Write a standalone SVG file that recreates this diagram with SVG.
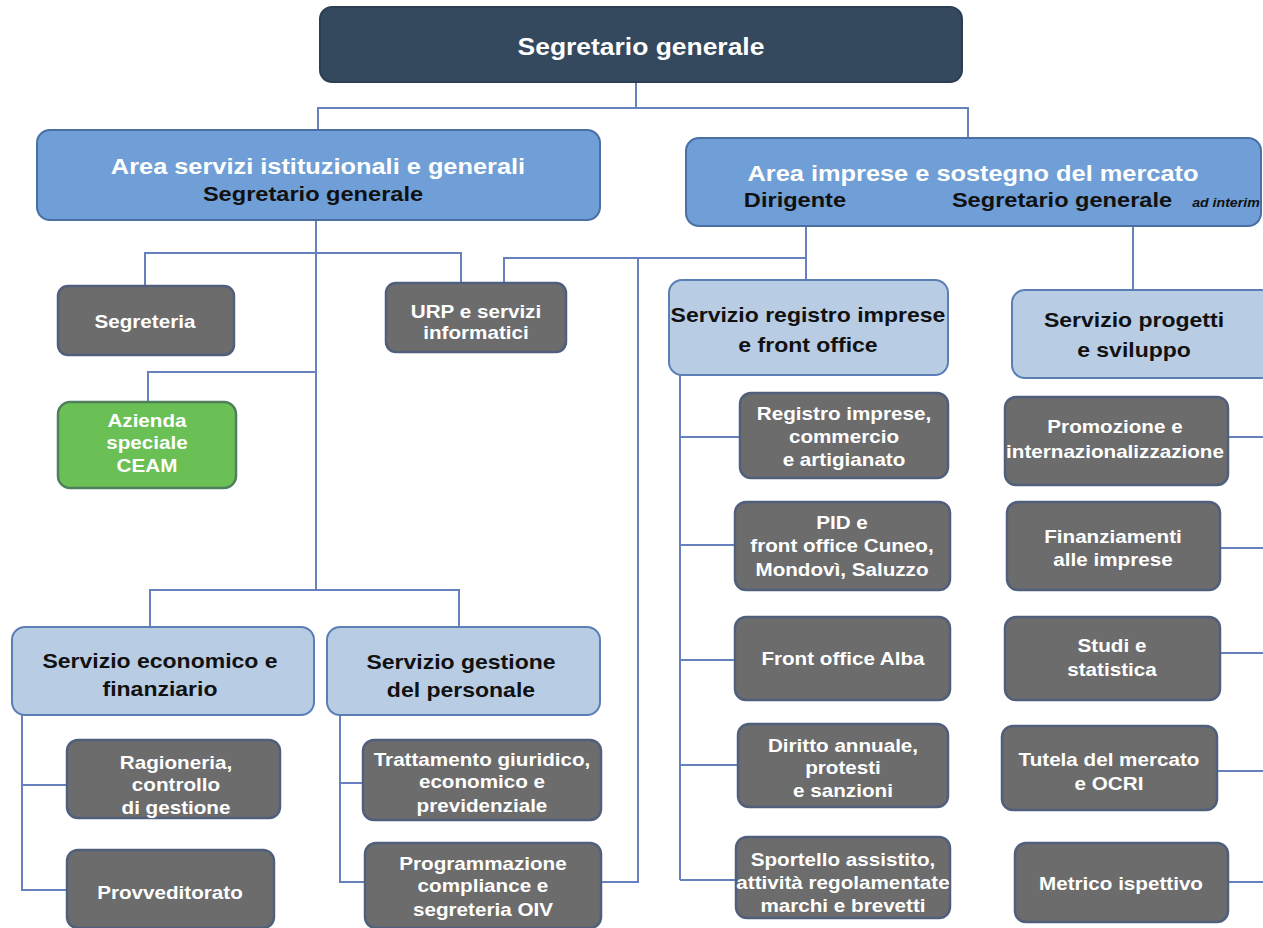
<svg xmlns="http://www.w3.org/2000/svg" width="1263" height="928" viewBox="0 0 1263 928">
<style>
.top{fill:#34495e;stroke:#2c3e52;stroke-width:2}
.area{fill:#6f9fd6;stroke:#4a6fa5;stroke-width:2}
.serv{fill:#b8cce4;stroke:#5b7fb5;stroke-width:2}
.unit{fill:#6c6c6c;stroke:#4f5f7c;stroke-width:2.5}
.green{fill:#6abf55;stroke:#4f7f5c;stroke-width:2.5}
.c{fill:none;stroke:#6681bd;stroke-width:2}
text{font-family:"Liberation Sans",Arial,sans-serif;font-weight:bold;text-anchor:middle;transform-box:fill-box;transform-origin:center;transform:scaleX(1.18)}
.tw{fill:#ffffff;font-size:23px;transform:scaleX(1.15)}
.aw{fill:#ffffff;font-size:21.5px}
.ab{fill:#111111;font-size:20px}
.sb{fill:#111111;font-size:19.5px}
.uw{fill:#ffffff;font-size:17.5px}
.it{fill:#111111;font-size:12px;font-style:italic}
</style>
<g id="connectors">
<path class="c" d="M636 82V108M318 130V108H968V138"/>
<path class="c" d="M316 220V590M145 285V253H461V283M148 402V372H316M150 627V590H459V627"/>
<path class="c" d="M806 226V280M504 283V258H806M638 258V882H601M1133 226V290"/>
<path class="c" d="M680 375V880M680 437H740M680 545H735M680 660H735M680 765H738M680 880H736"/>
<path class="c" d="M1228 437H1263M1220 548H1263M1220 653H1263M1217 771H1263M1228 882H1263"/>
<path class="c" d="M22 715V890H67M22 785H67M340 715V882H365M340 783H363"/>
</g>
<g id="segretario-generale">
<rect class="top" x="320" y="7" width="642" height="75" rx="12"/>
<text class="tw" x="641" y="55">Segretario generale</text>
</g>
<g id="area-servizi">
<rect class="area" x="37" y="130" width="563" height="90" rx="13"/>
<text class="aw" x="318" y="174">Area servizi istituzionali e generali</text>
<text class="ab" x="313" y="201">Segretario generale</text>
</g>
<g id="area-imprese">
<rect class="area" x="686" y="138" width="575" height="88" rx="13"/>
<text class="aw" x="973" y="181">Area imprese e sostegno del mercato</text>
<text class="ab" x="795" y="207">Dirigente</text>
<text class="ab" x="1062" y="207">Segretario generale</text>
<text class="it" x="1226" y="207">ad interim</text>
</g>
<g id="segreteria">
<rect class="unit" x="58" y="286" width="176" height="69" rx="10"/>
<text class="uw" x="145" y="328">Segreteria</text>
</g>
<g id="urp">
<rect class="unit" x="386" y="283" width="180" height="69" rx="10"/>
<text class="uw" x="476" y="318">URP e servizi</text>
<text class="uw" x="476" y="339">informatici</text>
</g>
<g id="azienda-ceam">
<rect class="green" x="58" y="402" width="178" height="86" rx="12"/>
<text class="uw" x="147" y="427">Azienda</text>
<text class="uw" x="147" y="449">speciale</text>
<text class="uw" x="147" y="472">CEAM</text>
</g>
<g id="servizio-economico">
<rect class="serv" x="12" y="627" width="302" height="88" rx="13"/>
<text class="sb" x="160" y="668">Servizio economico e</text>
<text class="sb" x="160" y="696">finanziario</text>
</g>
<g id="servizio-gestione">
<rect class="serv" x="327" y="627" width="273" height="88" rx="13"/>
<text class="sb" x="461" y="669">Servizio gestione</text>
<text class="sb" x="461" y="697">del personale</text>
</g>
<g id="ragioneria">
<rect class="unit" x="67" y="740" width="213" height="78" rx="11"/>
<text class="uw" x="176" y="769">Ragioneria,</text>
<text class="uw" x="176" y="791">controllo</text>
<text class="uw" x="176" y="814">di gestione</text>
</g>
<g id="provveditorato">
<rect class="unit" x="67" y="850" width="207" height="78" rx="11"/>
<text class="uw" x="170" y="899">Provveditorato</text>
</g>
<g id="trattamento">
<rect class="unit" x="363" y="740" width="238" height="80" rx="11"/>
<text class="uw" x="482" y="766">Trattamento giuridico,</text>
<text class="uw" x="482" y="788">economico e</text>
<text class="uw" x="482" y="812">previdenziale</text>
</g>
<g id="programmazione">
<rect class="unit" x="365" y="843" width="236" height="85" rx="11"/>
<text class="uw" x="483" y="870">Programmazione</text>
<text class="uw" x="483" y="892">compliance e</text>
<text class="uw" x="483" y="916">segreteria OIV</text>
</g>
<g id="servizio-registro">
<rect class="serv" x="669" y="280" width="279" height="95" rx="13"/>
<text class="sb" x="808" y="322">Servizio registro imprese</text>
<text class="sb" x="808" y="352">e front office</text>
</g>
<g id="servizio-progetti">
<rect class="serv" x="1012" y="290" width="262" height="88" rx="13"/>
<text class="sb" x="1134" y="327">Servizio progetti</text>
<text class="sb" x="1134" y="357">e sviluppo</text>
</g>
<g id="registro-imprese">
<rect class="unit" x="740" y="393" width="208" height="85" rx="11"/>
<text class="uw" x="844" y="420">Registro imprese,</text>
<text class="uw" x="844" y="443">commercio</text>
<text class="uw" x="844" y="466">e artigianato</text>
</g>
<g id="pid">
<rect class="unit" x="735" y="502" width="215" height="88" rx="11"/>
<text class="uw" x="842" y="529">PID e</text>
<text class="uw" x="842" y="552">front office Cuneo,</text>
<text class="uw" x="842" y="576">Mondovì, Saluzzo</text>
</g>
<g id="front-office-alba">
<rect class="unit" x="735" y="617" width="215" height="83" rx="11"/>
<text class="uw" x="843" y="665">Front office Alba</text>
</g>
<g id="diritto-annuale">
<rect class="unit" x="738" y="724" width="210" height="83" rx="11"/>
<text class="uw" x="843" y="752">Diritto annuale,</text>
<text class="uw" x="843" y="774">protesti</text>
<text class="uw" x="843" y="797">e sanzioni</text>
</g>
<g id="sportello">
<rect class="unit" x="736" y="837" width="214" height="81" rx="11"/>
<text class="uw" x="843" y="866">Sportello assistito,</text>
<text class="uw" x="843" y="889">attività regolamentate</text>
<text class="uw" x="843" y="912">marchi e brevetti</text>
</g>
<g id="promozione">
<rect class="unit" x="1005" y="397" width="223" height="88" rx="11"/>
<text class="uw" x="1115" y="433">Promozione e</text>
<text class="uw" x="1115" y="458">internazionalizzazione</text>
</g>
<g id="finanziamenti">
<rect class="unit" x="1007" y="502" width="213" height="88" rx="11"/>
<text class="uw" x="1113" y="543">Finanziamenti</text>
<text class="uw" x="1113" y="566">alle imprese</text>
</g>
<g id="studi">
<rect class="unit" x="1005" y="617" width="215" height="83" rx="11"/>
<text class="uw" x="1112" y="652">Studi e</text>
<text class="uw" x="1112" y="676">statistica</text>
</g>
<g id="tutela">
<rect class="unit" x="1002" y="726" width="215" height="84" rx="11"/>
<text class="uw" x="1109" y="766">Tutela del mercato</text>
<text class="uw" x="1109" y="790">e OCRI</text>
</g>
<g id="metrico">
<rect class="unit" x="1015" y="843" width="213" height="79" rx="11"/>
<text class="uw" x="1121" y="890">Metrico ispettivo</text>
</g>
</svg>
